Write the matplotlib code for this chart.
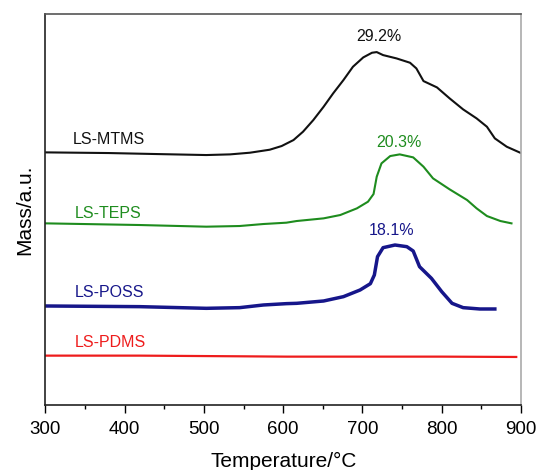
import matplotlib
matplotlib.use("Agg")
import matplotlib.pyplot as plt
from matplotlib.ticker import MultipleLocator

plt.rcParams['font.family'] = ['Liberation Sans', 'DejaVu Sans']

# Temperature (°C) and mass (a.u.)
mtms_t = [300, 380, 440, 503, 533, 558, 583, 598, 613, 625, 638, 651, 663, 676, 688, 701, 712, 718,
          726, 743, 760, 768, 777, 794, 810, 827, 844, 857, 867, 882, 899]
mtms_m = [759, 757, 754, 751, 753, 758, 767, 778, 796, 821, 856, 896, 936, 976, 1016, 1044, 1058, 1060,
          1051, 1041, 1028, 1011, 973, 954, 921, 888, 861, 836, 801, 776, 758]

teps_t = [300, 419, 503, 545, 575, 604, 617, 651, 672, 693, 707, 714, 718, 724, 735, 747, 764, 777,
          789, 810, 832, 844, 857, 874, 888]
teps_m = [546, 541, 536, 538, 544, 548, 553, 561, 571, 591, 611, 634, 686, 726, 748, 753, 744, 716,
          681, 648, 616, 591, 568, 553, 546]

poss_t = [300, 419, 503, 545, 575, 604, 617, 651, 676, 697, 710, 715, 719, 726, 741, 756, 764, 772,
          787, 800, 813, 827, 848, 867]
poss_m = [298, 296, 291, 293, 301, 305, 306, 313, 326, 346, 365, 391, 446, 473, 481, 476, 463, 416,
          381, 341, 306, 293, 289, 289]

pdms_t = [300, 419, 545, 604, 700, 800, 894]
pdms_m = [149, 149, 147, 146, 146, 146, 145]

names = ["LS-MTMS", "LS-TEPS", "LS-POSS", "LS-PDMS"]
colors = ["#111111", "#1e8c1e", "#16168a", "#ee1c1c"]
name_pos = [(334, 798), (337, 576), (337, 339), (337, 189)]
pct_labels = ["29.2%", "20.3%", "18.1%"]
pct_pos = [(721, 1106), (746, 788), (737, 526)]

fig = plt.figure(figsize=(5.39, 4.70), dpi=100)
ax = fig.add_axes([0.0842, 0.1377, 0.8824, 0.8323])

ax.plot(mtms_t, mtms_m, color=colors[0], lw=1.5, solid_joinstyle='round')
ax.plot(teps_t, teps_m, color=colors[1], lw=1.5, solid_joinstyle='round')
ax.plot(poss_t, poss_m, color=colors[2], lw=2.5, solid_joinstyle='round')
ax.plot(pdms_t, pdms_m, color=colors[3], lw=1.6)

for n, c, (x, y) in zip(names, colors, name_pos):
    ax.text(x, y, n, color=c, fontsize=11.5, ha='left', va='center')
for p, c, (x, y) in zip(pct_labels, colors, pct_pos):
    ax.text(x, y, p, color=c, fontsize=11.5, ha='center', va='center')

ax.set_xlim(300, 900)
ax.set_ylim(0, 1174)
ax.xaxis.set_major_locator(MultipleLocator(100))
ax.xaxis.set_minor_locator(MultipleLocator(50))
ax.set_yticks([])
ax.tick_params(axis='x', which='major', direction='out', length=6, width=1, pad=5, labelsize=13.5)
ax.tick_params(axis='x', which='minor', direction='out', length=3, width=1)
ax.spines['left'].set_color('#222222')
ax.spines['bottom'].set_color('#222222')
ax.spines['top'].set_color('#555555')
ax.spines['right'].set_color('#aaaaaa')
for s in ax.spines.values():
    s.set_linewidth(1.2)

ax.set_xlabel("Temperature/°C", fontsize=15, labelpad=10)
ax.set_ylabel("Mass/a.u.", fontsize=15, labelpad=8)

fig.savefig("out.png", dpi=100)
